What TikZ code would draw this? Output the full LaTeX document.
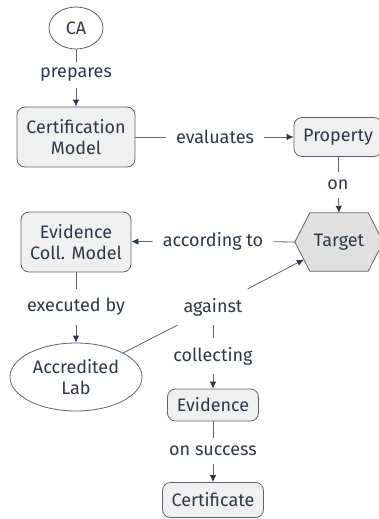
\documentclass[tikz,border=0pt]{standalone}
\usepackage{fontspec}
\setmainfont{Fira Sans}
\usetikzlibrary{shapes.geometric,arrows.meta,calc}
\definecolor{ink}{HTML}{2E3848}
\definecolor{edgec}{HTML}{5A6573}
\definecolor{boxfill}{HTML}{F0F0F0}
\definecolor{hexfill}{HTML}{E0E0E0}
\begin{document}
\begin{tikzpicture}[x=1pt,y=-1pt,
  txt/.style={text=ink,font=\fontsize{18}{20.5}\selectfont},
  box/.style={txt,draw=edgec,fill=boxfill,rounded corners=8pt,align=center,inner sep=0pt,line width=0.8pt},
  oval/.style={txt,draw=edgec,fill=white,ellipse,align=center,inner sep=0pt,line width=0.8pt},
  lbl/.style={txt,inner xsep=10pt,inner ysep=0pt,minimum height=26pt},
  tall/.style={lbl,minimum height=36pt},
  link/.style={draw=edgec,line width=0.8pt},
  arr/.style={link,-{Latex[length=7pt,width=6.5pt,color=ink]}}]
\useasboundingbox (0,0) rectangle (378,519);

% nodes
\node[oval,minimum width=54pt,minimum height=42pt] (ca) at (76,28) {CA};
\node[box,minimum width=118pt,minimum height=60pt] (certm) at (76,137) {Certification\\Model};
\node[box,minimum width=88pt,minimum height=39pt] (prop) at (338,137) {Property};
\node[txt,minimum width=88pt,minimum height=58pt,inner sep=0pt] (target) at (339,242) {};
\node[box,minimum width=110pt,minimum height=60pt] (ecm) at (76,242) {Evidence\\Coll. Model};
\node[oval,minimum width=132pt,minimum height=68pt] (lab) at (76,377) {Accredited\\Lab};
\node[box,minimum width=91pt,minimum height=32pt] (evid) at (213,405) {Evidence};
\node[box,minimum width=101pt,minimum height=35pt] (cert) at (213,500) {Certificate};

% hexagonal target
\draw[link,fill=hexfill] (target.west) -- ([xshift=15pt]target.north west)
  -- ([xshift=-15pt]target.north east) -- (target.east)
  -- ([xshift=-15pt]target.south east) -- ([xshift=15pt]target.south west) -- cycle;
\node[txt] (targettxt) at (target.center) {Target};
\coordinate (tgtin) at ($(target.west)!0.6!([xshift=15pt]target.south west)$);

% edge labels
\node[lbl] (prep) at (76,75) {prepares};
\node[lbl] (eval) at (215,137) {evaluates};
\node[lbl] (on) at (338,185) {on};
\node[lbl] (acc) at (213,241) {according to};
\node[tall] (exec) at (76,307) {executed by};
\node[tall,minimum width=80pt] (agst) at (213,307) {against};
\node[tall] (coll) at (213,356) {collecting};
\node[lbl] (succ) at (213,451) {on success};

% connectors
\draw[link] (ca) -- (prep);
\draw[arr] (prep) -- (certm);
\draw[link] (certm) -- (eval);
\draw[arr] (eval) -- (prop);
\draw[link] (prop) -- (on);
\draw[arr] (on) -- (target.north);
\draw[link] (target.west) -- (acc);
\draw[arr] (acc) -- (ecm);
\draw[link] (ecm) -- (exec);
\draw[arr] (exec) -- (lab);
\draw[link] (lab) -- (agst);
\draw[arr] (agst) -- (tgtin);
\draw[link] (agst) -- (coll);
\draw[arr] (coll) -- (evid);
\draw[link] (evid) -- (succ);
\draw[arr] (succ) -- (cert);
\end{tikzpicture}
\end{document}
